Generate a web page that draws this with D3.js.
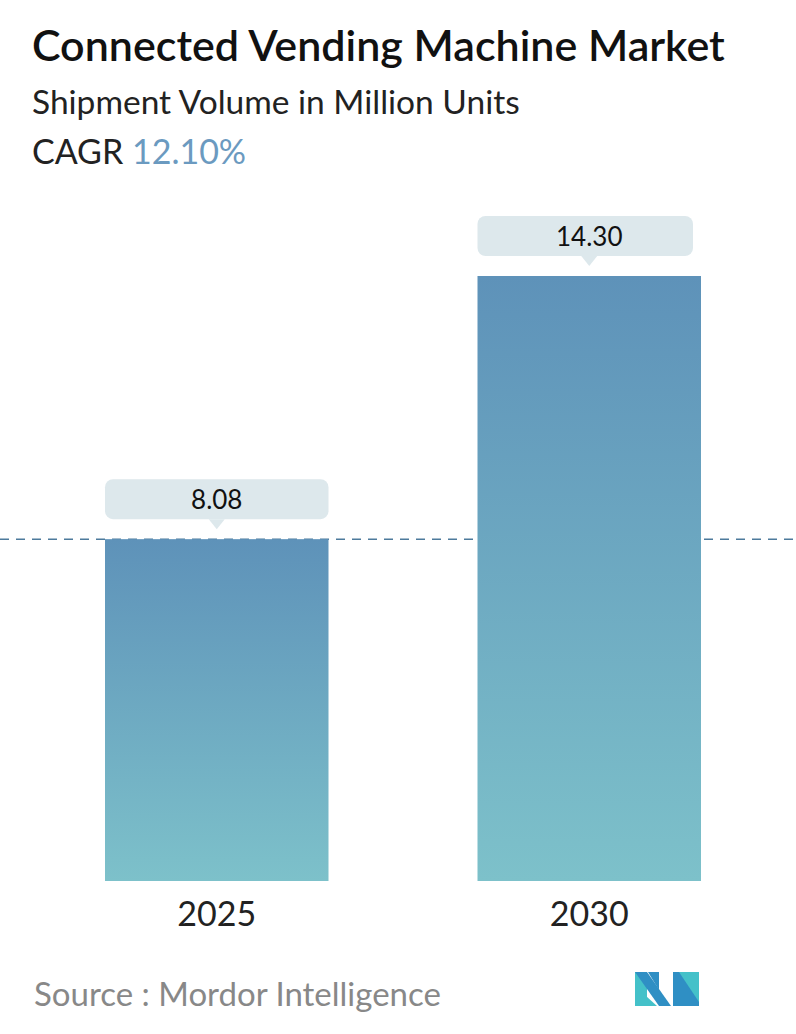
<!DOCTYPE html><html><head><meta charset="utf-8"><script src="https://cdn.jsdelivr.net/npm/d3@7"></script>
<style>body{margin:0;background:#fff}svg text{font-family:Lato,"Noto Sans",sans-serif}</style></head><body>
<svg id="c" width="796" height="1034"></svg>
<script>
const categories=["2025","2030"];
const values=[8.08,14.30];
const labels=["8.08","14.30"];
const title="Connected Vending Machine Market";
const subtitle="Shipment Volume in Million Units";
const cagr="12.10%";
const svg=d3.select("#c");
const defs=svg.append("defs");
const g=defs.append("linearGradient").attr("id","bg").attr("x1",0).attr("x2",0).attr("y1",0).attr("y2",1);
g.append("stop").attr("offset","0%").attr("stop-color","#5e92b9");
g.append("stop").attr("offset","100%").attr("stop-color","#7dc1ca");
svg.append("text").attr("x",32).attr("y",61).attr("font-size",43).attr("font-weight",600).attr("fill","#111").text(title);
svg.append("text").attr("x",32).attr("y",114).attr("font-size",33.5).attr("fill","#222").text(subtitle);
const t=svg.append("text").attr("x",32).attr("y",164).attr("font-size",34);
t.append("tspan").attr("fill","#222").text("CAGR ");
t.append("tspan").attr("fill","#6b9ac0").text(cagr);
const x=d3.scaleBand().domain(categories).range([105,701]).paddingInner(0.4).paddingOuter(0);
const y=d3.scaleLinear().domain([0,14.30]).range([881,276]);
svg.append("line").attr("x1",0).attr("x2",796).attr("y1",y(values[0])).attr("y2",y(values[0])).attr("stroke","#4d7a9c").attr("stroke-width",1.5).attr("stroke-dasharray","9,7");
categories.forEach((c,i)=>{
 const bx=x(c),bw=x.bandwidth(),top=y(values[i]);
 svg.append("rect").attr("x",bx).attr("y",top).attr("width",bw).attr("height",881-top).attr("fill","url(#bg)");
 const cx=bx+bw/2,by=top-60;
 svg.append("rect").attr("x",bx).attr("y",by).attr("width",bw-(i?8:0)).attr("height",40).attr("rx",8).attr("fill","#dde8ec");
 svg.append("path").attr("d",`M${cx-8},${by+40}L${cx},${by+50}L${cx+8},${by+40}Z`).attr("fill","#dde8ec");
 svg.append("text").attr("x",cx).attr("y",by+30).attr("text-anchor","middle").attr("font-size",26).attr("fill","#111").text(labels[i]);
 svg.append("text").attr("x",cx).attr("y",926).attr("text-anchor","middle").attr("font-size",34).attr("fill","#222").text(c);
});
svg.append("text").attr("x",34).attr("y",1006).attr("font-size",33).attr("fill","#888").text("Source :  Mordor Intelligence");
const L=svg.append("g").attr("transform","translate(635,972)");
L.append("path").attr("d","M0,0L12,0L12,34L0,34Z").attr("fill","#44c1c9");
L.append("path").attr("d","M0,0L12,0L36,34L24,34Z").attr("fill","#2f8fc4");
L.append("path").attr("d","M13,0L24,0L24,18Z").attr("fill","#2f8fc4");
L.append("path").attr("d","M38,0L64,0L64,34L38,34Z").attr("fill","#44c1c9");
L.append("path").attr("d","M38,0L44,0L64,30L64,34L38,34Z").attr("fill","#2f8fc4");
L.append("path").attr("d","M0,14L22,34L0,34Z").attr("fill","#44c1c9");
</script></body></html>
